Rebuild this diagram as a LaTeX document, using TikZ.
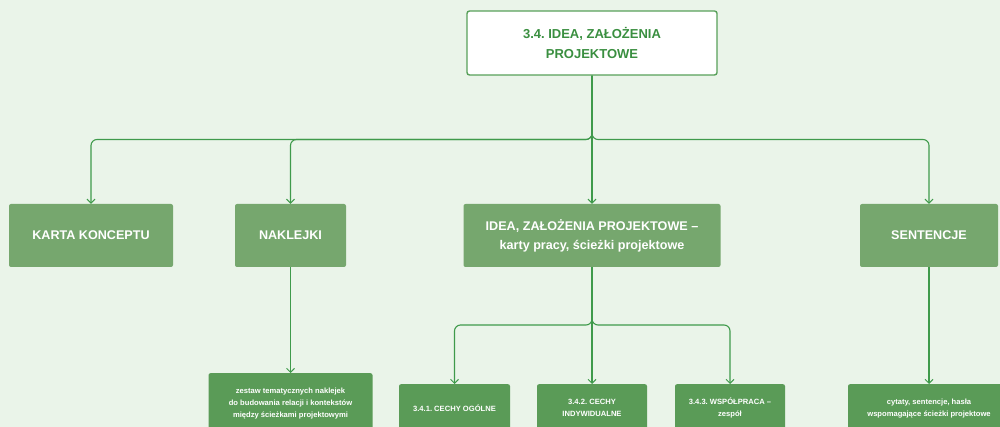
\documentclass[tikz,border=0pt]{standalone}
\usepackage{fontspec}
\setmainfont{Liberation Sans}
\usetikzlibrary{arrows.meta}
\frenchspacing
\definecolor{bgc}{HTML}{EAF4E9}
\definecolor{lvtwo}{HTML}{76A76E}
\definecolor{lvthree}{HTML}{5A9B57}
\definecolor{linec}{HTML}{3F9A4B}
\definecolor{toptext}{HTML}{3A8F40}
\definecolor{topborder}{HTML}{58A05A}
\tikzset{
  topbox/.style={draw=topborder, line width=1.4pt, fill=white, rounded corners=2.5pt, inner sep=0pt, align=center,
     text=toptext, font=\fontsize{13}{20}\selectfont\bfseries},
  boxtwo/.style={fill=lvtwo, rounded corners=2pt, inner sep=0pt, align=center, text=white,
     font=\fontsize{12.6}{19}\selectfont\bfseries},
  boxthree/.style={fill=lvthree, rounded corners=2pt, inner sep=0pt, align=center, text=white,
     font=\fontsize{7.6}{12}\selectfont\bfseries},
  conn/.style={draw=linec, line width=1.1pt, rounded corners=6pt, -{Straight Barb[length=4pt,width=8pt,line width=1pt]}},
}
\begin{document}
\begin{tikzpicture}[x=1pt,y=-1pt]
\fill[bgc] (0,0) rectangle (1000,427);
\useasboundingbox (0,0) rectangle (1000,427);
\clip (0,0) rectangle (1000,427);

\node[topbox, minimum width=250, minimum height=64] (top) at (592,43) {3.4. IDEA, ZAŁOŻENIA\\PROJEKTOWE};

\node[boxtwo, minimum width=164, minimum height=63] (karta) at (91,235.5) {KARTA KONCEPTU};
\node[boxtwo, minimum width=111, minimum height=63] (nakl) at (290.5,235.5) {NAKLEJKI};
\node[boxtwo, minimum width=257, minimum height=63] (idea) at (592,235.5) {IDEA, ZAŁOŻENIA PROJEKTOWE –\\karty pracy, ścieżki projektowe};
\node[boxtwo, minimum width=138, minimum height=63] (sent) at (929,235.5) {SENTENCJE};

\node[boxthree, minimum width=164, minimum height=60, anchor=north] (zest) at (290.5,373) {zestaw tematycznych naklejek\\do budowania relacji i kontekstów\\między ścieżkami projektowymi};
\node[boxthree, minimum width=111, minimum height=48, anchor=north] (c1) at (454.5,384) {3.4.1. CECHY OGÓLNE};
\node[boxthree, minimum width=110, minimum height=48, anchor=north] (c2) at (592,384) {3.4.2. CECHY\\INDYWIDUALNE};
\node[boxthree, minimum width=110, minimum height=48, anchor=north] (c3) at (730,384) {3.4.3. WSPÓŁPRACA –\\zespół};
\node[boxthree, minimum width=162, minimum height=48, anchor=north] (cyt) at (929,384) {cytaty, sentencje, hasła\\wspomagające ścieżki projektowe};

\coordinate (j1) at (592,139.5);
\coordinate (j2) at (592,325);

\draw[conn] (top.south) -- (j1) -| (karta.north);
\draw[conn] (top.south) -- (j1) -| (nakl.north);
\draw[conn] (top.south) -- (idea.north);
\draw[conn] (top.south) -- (j1) -| (sent.north);

\draw[conn] (nakl.south) -- (zest.north);
\draw[conn] (sent.south) -- (cyt.north);

\draw[conn] (idea.south) -- (j2) -| (c1.north);
\draw[conn] (idea.south) -- (c2.north);
\draw[conn] (idea.south) -- (j2) -| (c3.north);
\end{tikzpicture}
\end{document}
